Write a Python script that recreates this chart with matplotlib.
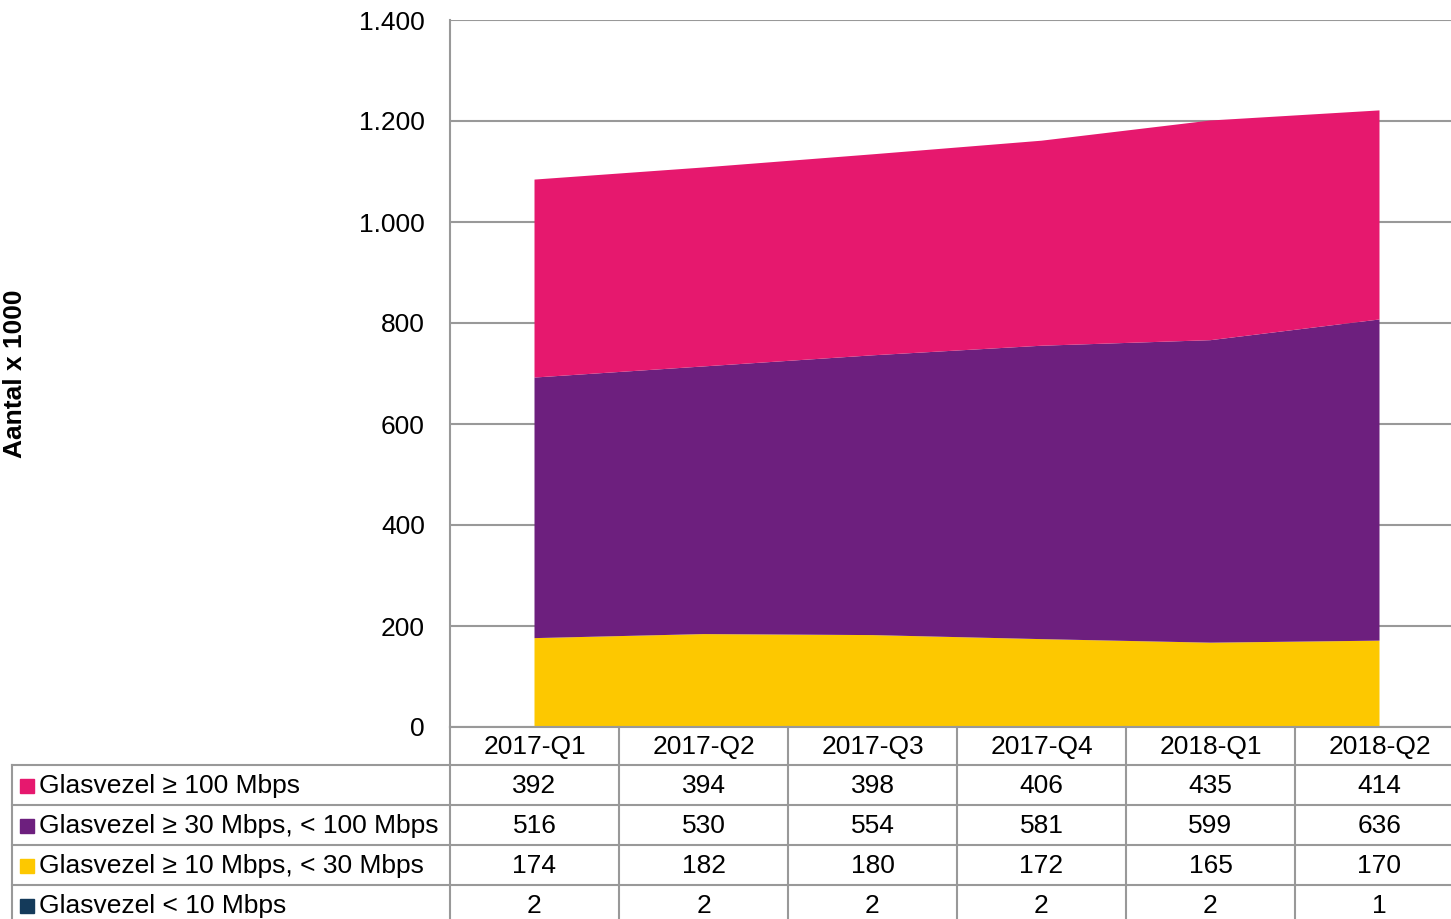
import matplotlib
matplotlib.use("Agg")
import matplotlib.pyplot as plt
import matplotlib.transforms as mtransforms
from matplotlib.lines import Line2D
from matplotlib.patches import Rectangle
import numpy as np

plt.rcParams['font.family'] = ['Liberation Sans', 'DejaVu Sans']

quarters = ['2017-Q1', '2017-Q2', '2017-Q3', '2017-Q4', '2018-Q1', '2018-Q2']
series_names = ['Glasvezel ≥ 100 Mbps', 'Glasvezel ≥ 30 Mbps, < 100 Mbps',
                'Glasvezel ≥ 10 Mbps, < 30 Mbps', 'Glasvezel < 10 Mbps']
ge100 = [392, 394, 398, 406, 435, 414]
ge30 = [516, 530, 554, 581, 599, 636]
ge10 = [174, 182, 180, 172, 165, 170]
lt10 = [2, 2, 2, 2, 2, 1]
colors = ['#E6186E', '#6D1F7E', '#FDC800', '#143A5A']
yticks = [0, 200, 400, 600, 800, 1000, 1200, 1400]

W, H = 1451, 919
fig = plt.figure(figsize=(W / 100, H / 100), dpi=100)

def fx(px):
    return px / W

def fy(py):
    return 1 - py / H

fs = 19
ax_left, ax_top, ax_bot, col_w = 450, 20, 727, 169
ax = fig.add_axes([fx(ax_left), fy(ax_bot), fx(col_w * 6), (ax_bot - ax_top) / H])
x = np.arange(len(quarters))
ax.stackplot(x, lt10, ge10, ge30, ge100, colors=colors[::-1], linewidth=0, zorder=2)
ax.set_xlim(-0.5, len(quarters) - 0.5)
ax.set_ylim(0, 1400)
ax.set_yticks(yticks)
ax.set_yticklabels([f'{v:,}'.replace(',', '.') for v in yticks], fontsize=fs)
ax.tick_params(axis='y', length=0, pad=18)
ax.set_xticks([])
ax.grid(axis='y', color='#999999', linewidth=1.5, zorder=0)
ax.set_axisbelow(True)
for s in ['top', 'right']:
    ax.spines[s].set_visible(False)
for s in ['left', 'bottom']:
    ax.spines[s].set_color('#999999')
    ax.spines[s].set_linewidth(1.5)

fig.text(fx(15), fy(374), 'Aantal x 1000', rotation=90, fontsize=19, fontweight='bold',
         ha='center', va='center')

# data table below the plot
tr = mtransforms.blended_transform_factory(ax.transData, fig.transFigure)
grey = '#999999'
row_edges = [727, 765, 805, 845, 885, 925]
right = W + 20
for ry in row_edges[1:-1]:
    fig.add_artist(Line2D([fx(12), fx(right)], [fy(ry)] * 2, color=grey, lw=1.5))
fig.add_artist(Line2D([fx(12)] * 2, [fy(765), 0], color=grey, lw=1.5))
fig.add_artist(Line2D([fx(ax_left)] * 2, [fy(ax_bot), 0], color=grey, lw=1.5))
for i in range(1, len(quarters)):
    fig.add_artist(Line2D([fx(ax_left + i * col_w)] * 2, [fy(ax_bot), 0], color=grey, lw=1.5))

for i, q in enumerate(quarters):
    fig.text(i, fy(747), q, transform=tr, ha='center', va='center', fontsize=fs)

rows = [ge100, ge30, ge10, lt10]
for r, (name, vals, c) in enumerate(zip(series_names, rows, colors)):
    yc = fy((row_edges[r + 1] + row_edges[r + 2]) / 2 + 1)
    fig.add_artist(Rectangle((fx(20), yc - 7 / H), 14 / W, 14 / H, color=c,
                             transform=fig.transFigure))
    fig.text(fx(39), yc, name, ha='left', va='center', fontsize=fs)
    for i, v in enumerate(vals):
        fig.text(i, yc, str(v), transform=tr, ha='center', va='center', fontsize=fs)

fig.savefig('out.png', dpi=100)
